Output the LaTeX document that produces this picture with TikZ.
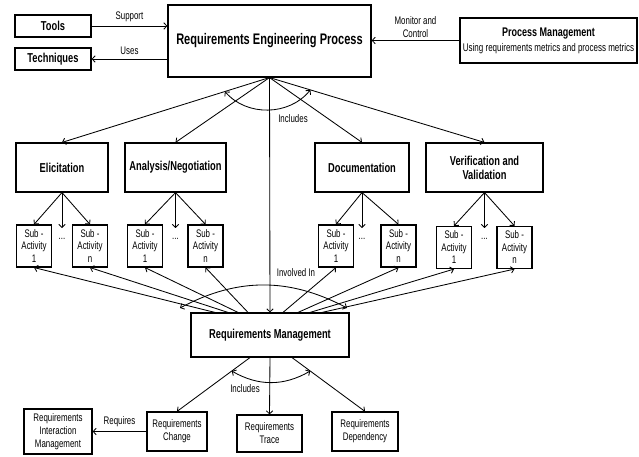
\documentclass[tikz,border=0pt]{standalone}
\usepackage{fontspec}
\setmainfont[FakeStretch=0.72]{Liberation Sans}
\usetikzlibrary{arrows.meta,calc}

\tikzset{
  box/.style={draw,line width=0.8pt,align=center,inner sep=1pt},
  titlebox/.style={box,font=\fontsize{10.9}{13}\selectfont\bfseries},
  stagebox/.style={box,font=\fontsize{9.2}{10}\selectfont\bfseries},
  subbox/.style={box,font=\fontsize{7.8}{8.9}\selectfont,minimum width=0.875cm,minimum height=1.05cm},
  smallbox/.style={box,font=\fontsize{7.8}{9.2}\selectfont},
  lbl/.style={font=\fontsize{7.8}{9}\selectfont,align=center,inner sep=1pt},
  conn/.style={->,line width=0.6pt},
}

\begin{document}
\begin{tikzpicture}[x=0.025cm,y=-0.025cm,>={Straight Barb[length=2.2pt,width=4.6pt]}]
    \useasboundingbox (0,0) rectangle (639,457);
    % top row
    \node[stagebox,minimum width=1.9cm,minimum height=0.55cm] (tools) at (53,26) {Tools};
    \node[stagebox,minimum width=1.9cm,minimum height=0.55cm] (tech) at (53,59) {Techniques};
    \node[titlebox,minimum width=5.075cm,minimum height=1.8cm] (rep) at (269.5,41) {Requirements Engineering Process};
    \node[box,minimum width=4.425cm,minimum height=1.125cm,font=\fontsize{7.9}{10.6}\selectfont] (pm) at (548.5,40.5)
        {{\fontsize{8.9}{10.6}\selectfont\bfseries Process Management}\\Using requirements metrics and process metrics};
    \draw[conn] (tools.east) -- node[lbl,midway,above=2pt] {Support} (tools.east -| rep.west);
    \draw[conn] (tech.east -| rep.west) -- node[lbl,midway,above=2pt] {Uses} (tech.east);
    \draw[conn] (pm.west) -- node[lbl,midway,above=1pt] {Monitor and\\Control} (pm.west -| rep.east);
    % activities
    \node[stagebox,minimum width=2.3cm,minimum height=1.225cm] (elic) at (62,167.5) {Elicitation};
    \node[stagebox,minimum width=2.525cm,minimum height=1.225cm] (anal) at (175.5,167.5) {Analysis/Negotiation};
    \node[stagebox,minimum width=2.35cm,minimum height=1.225cm] (doc) at (362,167.5) {Documentation};
    \node[stagebox,minimum width=2.925cm,minimum height=1.225cm] (vv) at (484.5,167.5) {Verification and\\Validation};
    \foreach \s in {elic,anal,doc,vv}
        \draw[conn] (rep.south) -- (\s.north);
    \coordinate (inc-l) at ($(rep.south)!0.215!(elic.north)$);
    \coordinate (inc-r) at ($(rep.south)!0.19!(vv.north)$);
    \draw[<->,line width=0.6pt] (inc-l) to[bend right=50] (inc-r);
    \node[lbl] (inc-top) at (293,119) {Includes};
    % sub-activities
    \foreach \n/\x/\y/\k in {elic1/34/246/1, elicn/90/246/n, anal1/145/246/1, analn/205.5/246/n,
                             doc1/336/246/1, docn/398.5/246/n, vv1/454/247.5/1, vvn/514.5/247.5/n}
        \node[subbox] (\n) at (\x,\y) {Sub -\\Activity\\\k};
    \foreach \s/\x in {elic/62, anal/175.5, doc/362, vv/484.5} {
        \coordinate (\s-dots) at (\x,228);
        \node[lbl] (\s-etc) at (\x,239) {...};
        \draw[conn] (\s.south) -- (\s1.north);
        \draw[conn] (\s.south) -- (\s-dots);
        \draw[conn] (\s.south) -- (\s n.north);
    }
    % management
    \node[stagebox,minimum width=3.95cm,minimum height=1.1cm] (rm) at (270,335) {Requirements Management};
    \draw[conn] (rep.south) -- (rm.north);
    \foreach \t/\dx in {elic1/-55, elicn/-42, anal1/-32, analn/-22, doc1/13, docn/28, vv1/40, vvn/52}
        \draw[conn] ($(rm.north)+(\dx,0)$) -- (\t.south);
    \coordinate (inv-l) at (180,308);
    \coordinate (inv-r) at (347,308);
    \draw[<->,line width=0.6pt] (inv-l) to[bend left=28] (inv-r);
    \node[lbl] (inv) at (296,273) {Involved In};
    % bottom row
    \node[smallbox,minimum width=1.7cm,minimum height=1.125cm] (rim) at (58,431.5) {Requirements\\Interaction\\Management};
    \node[smallbox,minimum width=1.5cm,minimum height=0.975cm] (rc) at (177,431.5) {Requirements\\Change};
    \node[smallbox,minimum width=1.625cm,minimum height=0.925cm] (rt) at (269.5,433.5) {Requirements\\Trace};
    \node[smallbox,minimum width=1.65cm,minimum height=0.975cm] (rd) at (365,431.5) {Requirements\\Dependency};
    \coordinate (rm-l) at ($(rm.south)+(-20,0)$);
    \coordinate (rm-r) at ($(rm.south)+(22,0)$);
    \draw[conn] (rm-l) -- (rc.north);
    \draw[conn] (rm.south) -- (rt.north);
    \draw[conn] (rm-r) -- (rd.north);
    \coordinate (sub-l) at ($(rm-l)!0.25!(rc.north)$);
    \coordinate (sub-r) at ($(rm-r)!0.25!(rd.north)$);
    \draw[<->,line width=0.6pt] (sub-l) to[bend right=30] (sub-r);
    \node[lbl] (inc-bot) at (245,389) {Includes};
    \draw[conn] (rc.west) -- node[lbl,midway,above=2pt] {Requires} (rim.east);
\end{tikzpicture}
\end{document}
